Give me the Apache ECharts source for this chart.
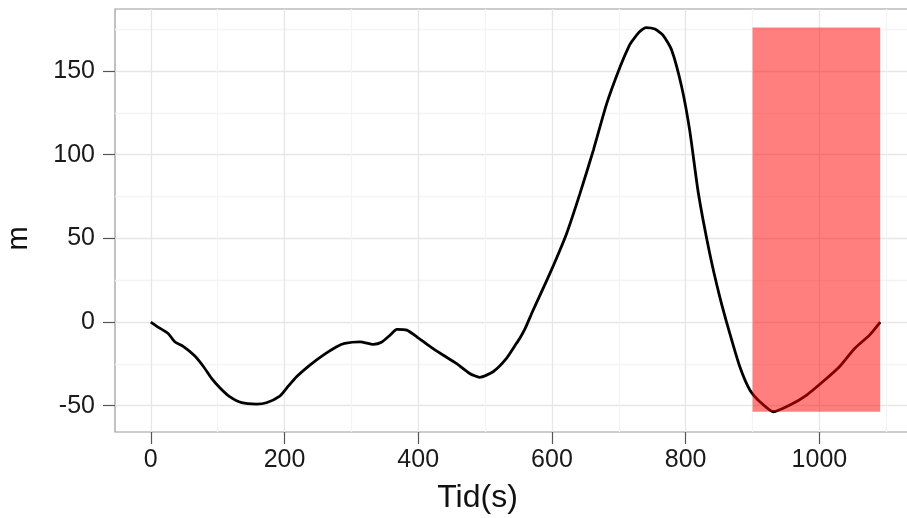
<!DOCTYPE html>
<html>
<head>
<meta charset="utf-8">
<script src="https://cdn.jsdelivr.net/npm/echarts@6/dist/echarts.min.js"></script>
<style>html,body{margin:0;padding:0;background:#fff}#c{width:907px;height:518px}</style>
</head>
<body>
<div id="c"></div>
<script>
const timeS = [0,14,26,36,49,66,79,91,104,118,136,158,173,193,203,218,238,258,278,290,313,333,345,358,368,383,398,418,437,457,477,492,512,532,547,552,560,572,597,622,642,662,682,702,716,721,731,741,754,766,779,794,806,819,836,851,866,881,896,911,931,956,981,1005,1030,1053,1075,1091];
const meters = [0,-3.8,-6.8,-11.8,-14.7,-20.3,-26.7,-33.7,-39.6,-44.6,-48.2,-49,-48.2,-44.2,-39.6,-32.7,-25.7,-19.7,-14.7,-12.7,-11.8,-13.3,-12.1,-7.8,-4.4,-4.8,-8.8,-14.7,-19.7,-24.7,-30.7,-33,-29.7,-21.7,-12.7,-9.7,-3.8,7.2,29.1,53,76.9,102.8,130.7,152.6,165.5,168.5,173.5,176,175.1,171.5,162.6,140.6,114.7,77,41,15.1,-6.8,-26.7,-40.6,-47.6,-53.6,-49.6,-43.6,-35.7,-26.7,-15.7,-7.8,0];
const xTicks = [0,200,400,600,800,1000];
const xMinor = [100,300,500,700,900,1100];
const yTicks = [-50,0,50,100,150];
const yMinor = [-25,25,75,125,175];
const highlightX = [900, 1091];
const highlightY = [Math.min(...meters), Math.max(...meters)];

const lineData = timeS.map((t,i)=>[t, meters[i]]);
const font = '"Liberation Sans", Arial, Helvetica, sans-serif';
const X0 = -53.5, X1 = 1146, Y0 = -65.7, Y1 = 187.1;
const plain = v => String(v);

const chart = echarts.init(document.getElementById('c'), null, {renderer:'canvas'});
chart.setOption({
  animation:false,
  backgroundColor:'#fff',
  grid:{left:115, top:9, right:-10, bottom:86, outerBoundsMode:'none', containLabel:false,
        show:true, borderColor:'#999', borderWidth:1.2, backgroundColor:'transparent'},
  xAxis:[
    {type:'value', min:X0, max:X1, position:'bottom',
     name:'Tid(s)', nameLocation:'middle', nameGap:50,
     nameTextStyle:{fontFamily:font, fontSize:32, color:'#111', padding:[0,77,0,0]},
     axisLine:{show:false, onZero:false},
     axisTick:{show:true, length:12, lineStyle:{color:'#555', width:1.2}, customValues:xTicks},
     axisLabel:{fontFamily:font, fontSize:25, color:'#1a1a1a', margin:16, customValues:xTicks, formatter:plain},
     splitLine:{show:true, lineStyle:{color:'#e6e6e6', width:1.3}}},
    {type:'value', min:X0, max:X1, position:'bottom',
     axisLine:{show:false, onZero:false},
     axisTick:{show:false, customValues:xMinor},
     axisLabel:{show:false},
     splitLine:{show:true, lineStyle:{color:'#f4f4f4', width:1.3}}}
  ],
  yAxis:[
    {type:'value', min:Y0, max:Y1, position:'left',
     name:'m', nameLocation:'middle', nameGap:82, nameRotate:90,
     nameTextStyle:{fontFamily:font, fontSize:29, color:'#111', padding:[0,36,0,0]},
     axisLine:{show:false, onZero:false},
     axisTick:{show:true, length:12, lineStyle:{color:'#555', width:1.2}, customValues:yTicks},
     axisLabel:{fontFamily:font, fontSize:25, color:'#1a1a1a', margin:20, customValues:yTicks, formatter:plain},
     splitLine:{show:true, lineStyle:{color:'#e6e6e6', width:1.3}}},
    {type:'value', min:Y0, max:Y1, position:'left',
     axisLine:{show:false, onZero:false},
     axisTick:{show:false, customValues:yMinor},
     axisLabel:{show:false},
     splitLine:{show:true, lineStyle:{color:'#f4f4f4', width:1.3}}}
  ],
  series:[
    {type:'line', xAxisIndex:0, yAxisIndex:0, data:lineData, showSymbol:false, smooth:0.2,
     lineStyle:{color:'#000', width:2.8}, z:3},
    {type:'custom', xAxisIndex:0, yAxisIndex:0, z:4,
     data:[[highlightX[0], highlightX[1], highlightY[0], highlightY[1]]],
     renderItem:function(params, api){
       const p0 = api.coord([api.value(0), api.value(3)]);
       const p1 = api.coord([api.value(1), api.value(2)]);
       return {type:'rect', shape:{x:p0[0], y:p0[1], width:p1[0]-p0[0], height:p1[1]-p0[1]},
               style:{fill:'rgba(255,0,0,0.5)'}};
     }}
  ]
});
</script>
</body>
</html>
